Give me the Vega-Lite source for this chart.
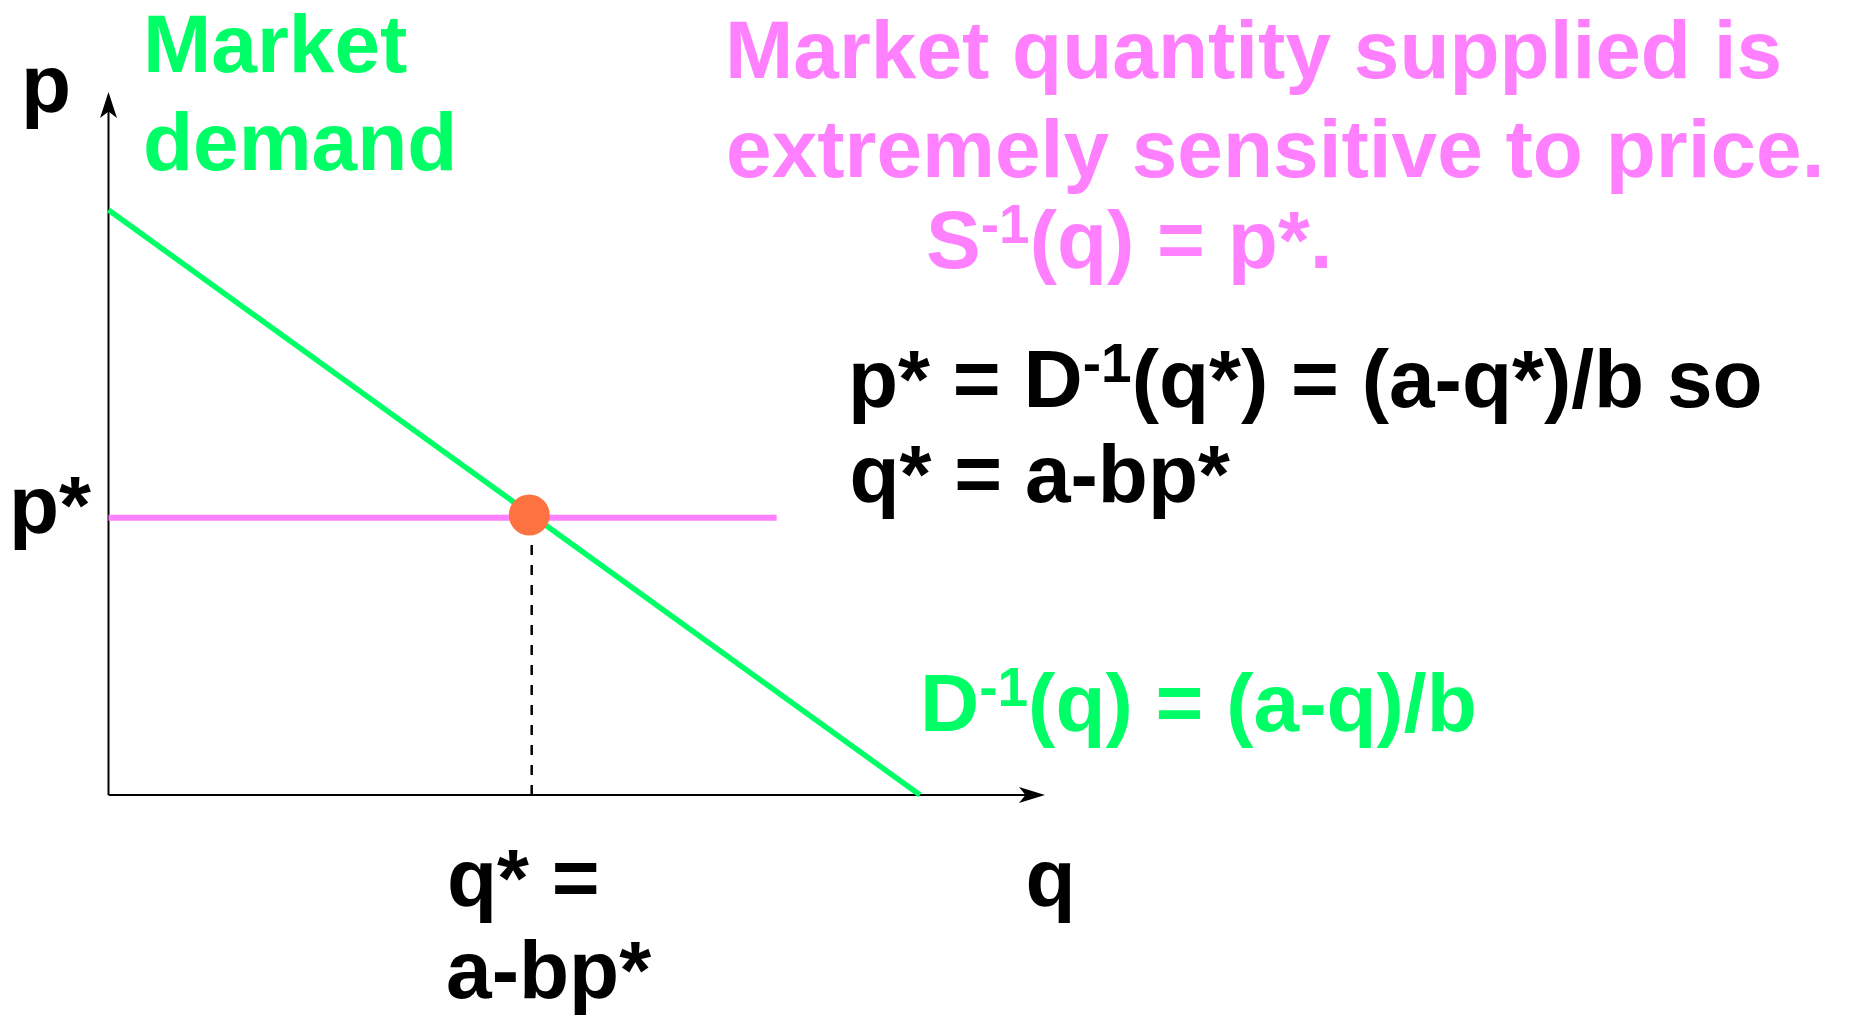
{
  "$schema": "https://vega.github.io/schema/vega-lite/v6.json",
  "autosize": {"type": "fit", "contains": "padding"},
  "width": 1849,
  "height": 1021,
  "padding": 0,
  "background": "white",
  "config": {"view": {"stroke": null}},
  "datasets": {
    "axes": [
      {"name": "p axis", "q1": 0, "p1": 0, "q2": 0, "p2": 11.9},
      {"name": "q axis", "q1": 0, "p1": 0, "q2": 11.45, "p2": 0}
    ],
    "tipP": [{"q": 0, "p": 12.017}],
    "tipQ": [{"q": 11.54, "p": 0}],
    "demand": [{"q": 0, "p": 10}, {"q": 10, "p": 0}],
    "supply": [{"q1": 0, "q2": 8.234, "p": 4.74}],
    "qstar": [{"q": 5.215, "p1": 0, "p2": 4.376}],
    "equilibrium": [{"q": 5.185, "p": 4.786}],
    "demandText": [
      {"text": "Market", "q": 0.425, "p": 12.36},
      {"text": "demand", "q": 0.425, "p": 10.69},
      {"text": "D", "q": 10.0, "p": 1.094},
      {"text": "(q) = (a-q)/b", "q": 11.332, "p": 1.094}
    ],
    "demandSup": [{"text": "-1", "q": 10.73, "p": 1.521}],
    "supplyText": [
      {"text": "Market quantity supplied is", "q": 7.597, "p": 12.256},
      {"text": "extremely sensitive to price.", "q": 7.61, "p": 10.564},
      {"text": "S", "q": 10.074, "p": 9.009},
      {"text": "(q) = p*.", "q": 11.351, "p": 9.009}
    ],
    "supplySup": [{"text": "-1", "q": 10.748, "p": 9.436}],
    "blackText": [
      {"text": "p", "q": -1.078, "p": 11.675},
      {"text": "p*", "q": -1.226, "p": 4.479},
      {"text": "q* =", "q": 4.17, "p": -1.897},
      {"text": "a-bp*", "q": 4.16, "p": -3.47},
      {"text": "q", "q": 11.3, "p": -1.897},
      {"text": "p* = D", "q": 9.113, "p": 6.632},
      {"text": "(q*) = (a-q*)/b so", "q": 12.608, "p": 6.632},
      {"text": "q* = a-bp*", "q": 9.131, "p": 5.009}
    ],
    "blackSup": [{"text": "-1", "q": 12.005, "p": 7.06}]
  },
  "encoding": {
    "x": {"field": "q", "type": "quantitative", "scale": {"domain": [-1.33703, 21.4479], "nice": false, "zero": false}, "axis": null},
    "y": {"field": "p", "type": "quantitative", "scale": {"domain": [-3.86325, 13.58974], "nice": false, "zero": false}, "axis": null}
  },
  "layer": [
    {
      "data": {"name": "axes"},
      "mark": {"type": "rule", "color": "black", "strokeWidth": 2, "strokeCap": "butt"},
      "encoding": {
        "x": {"field": "q1", "type": "quantitative"},
        "y": {"field": "p1", "type": "quantitative"},
        "x2": {"field": "q2"},
        "y2": {"field": "p2"}
      }
    },
    {
      "data": {"name": "tipP"},
      "mark": {"type": "point", "filled": true, "color": "black", "opacity": 1, "size": 676, "shape": "M0,0 L0.65,2 L0,1.5 L-0.65,2 Z"},
      "encoding": {}
    },
    {
      "data": {"name": "tipQ"},
      "mark": {"type": "point", "filled": true, "color": "black", "opacity": 1, "size": 676, "shape": "M0,0 L-2,-0.62 L-1.5,0 L-2,0.62 Z"},
      "encoding": {}
    },
    {
      "data": {"name": "demand"},
      "mark": {"type": "line", "color": "#00FF66", "strokeWidth": 5.5, "strokeCap": "butt"},
      "encoding": {}
    },
    {
      "data": {"name": "supply"},
      "mark": {"type": "rule", "color": "#FF80FF", "strokeWidth": 6, "strokeCap": "butt"},
      "encoding": {
        "x": {"field": "q1", "type": "quantitative"},
        "x2": {"field": "q2"}
      }
    },
    {
      "data": {"name": "qstar"},
      "mark": {"type": "rule", "color": "black", "strokeWidth": 2.5, "strokeDash": [10, 10], "strokeCap": "butt"},
      "encoding": {
        "y": {"field": "p1", "type": "quantitative"},
        "y2": {"field": "p2"}
      }
    },
    {
      "data": {"name": "equilibrium"},
      "mark": {"type": "point", "filled": true, "color": "#FC7341", "opacity": 1, "size": 1680, "shape": "circle"},
      "encoding": {}
    },
    {
      "data": {"name": "demandText"},
      "mark": {"type": "text", "align": "left", "baseline": "alphabetic", "font": "Liberation Sans", "fontWeight": "bold", "fontSize": 82, "color": "#00FF66"},
      "encoding": {"text": {"field": "text"}}
    },
    {
      "data": {"name": "demandSup"},
      "mark": {"type": "text", "align": "left", "baseline": "alphabetic", "font": "Liberation Sans", "fontWeight": "bold", "fontSize": 55, "color": "#00FF66"},
      "encoding": {"text": {"field": "text"}}
    },
    {
      "data": {"name": "supplyText"},
      "mark": {"type": "text", "align": "left", "baseline": "alphabetic", "font": "Liberation Sans", "fontWeight": "bold", "fontSize": 82, "color": "#FF80FF"},
      "encoding": {"text": {"field": "text"}}
    },
    {
      "data": {"name": "supplySup"},
      "mark": {"type": "text", "align": "left", "baseline": "alphabetic", "font": "Liberation Sans", "fontWeight": "bold", "fontSize": 55, "color": "#FF80FF"},
      "encoding": {"text": {"field": "text"}}
    },
    {
      "data": {"name": "blackText"},
      "mark": {"type": "text", "align": "left", "baseline": "alphabetic", "font": "Liberation Sans", "fontWeight": "bold", "fontSize": 82, "color": "black"},
      "encoding": {"text": {"field": "text"}}
    },
    {
      "data": {"name": "blackSup"},
      "mark": {"type": "text", "align": "left", "baseline": "alphabetic", "font": "Liberation Sans", "fontWeight": "bold", "fontSize": 55, "color": "black"},
      "encoding": {"text": {"field": "text"}}
    }
  ]
}
